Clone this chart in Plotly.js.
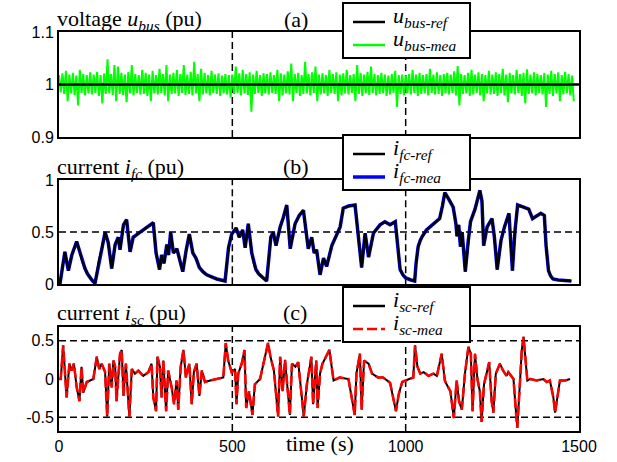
<!DOCTYPE html>
<html>
<head>
<meta charset="utf-8">
<script src="https://cdn.plot.ly/plotly-3.0.1.min.js"></script>
<style>html,body{margin:0;padding:0;background:#fff}</style>
</head>
<body>
<div id="chart" style="width:617px;height:462px"></div>
<script>
// ---- (a) DC bus voltage: reference and measured deviation envelope (pu) ----
const busRefTime = [0, 1500];
const busRef = [1, 1];
const busStep = 10; // sampling interval of the measured envelope (s)
const busUp = [
  0.018,0.021,0.026,0.019,0.022,0.017,0.028,0.020,0.018,0.023,
  0.019,0.024,0.018,0.021,0.048,0.020,0.037,0.034,0.022,0.019,
  0.024,0.037,0.020,0.018,0.028,0.022,0.019,0.026,0.018,0.030,
  0.020,0.037,0.019,0.022,0.028,0.020,0.037,0.019,0.024,0.043,
  0.020,0.030,0.022,0.018,0.026,0.019,0.021,0.017,0.020,0.018,
  0.019,0.034,0.021,0.028,0.020,0.023,0.019,0.026,0.018,0.021,
  0.020,0.023,0.018,0.028,0.021,0.019,0.025,0.040,0.020,0.022,
  0.018,0.043,0.020,0.023,0.034,0.019,0.021,0.018,0.028,0.020,
  0.023,0.019,0.021,0.028,0.018,0.020,0.037,0.022,0.019,0.024,
  0.034,0.020,0.018,0.022,0.019,0.017,0.020,0.026,0.018,0.019,
  0.017,0.020,0.028,0.019,0.022,0.018,0.020,0.030,0.019,0.023,
  0.018,0.020,0.022,0.019,0.025,0.035,0.020,0.018,0.022,0.028,
  0.019,0.023,0.020,0.018,0.026,0.019,0.023,0.020,0.030,0.019,
  0.022,0.018,0.028,0.020,0.022,0.029,0.019,0.023,0.020,0.018,
  0.022,0.019,0.026,0.020,0.023,0.018,0.024,0.020,0.017
];
const busLo = [
  -0.015,-0.018,-0.032,-0.017,-0.020,-0.040,-0.016,-0.021,-0.017,-0.019,
  -0.016,-0.022,-0.036,-0.018,-0.017,-0.020,-0.032,-0.018,-0.020,-0.034,
  -0.017,-0.021,-0.016,-0.019,-0.018,-0.022,-0.032,-0.017,-0.019,-0.016,
  -0.021,-0.032,-0.018,-0.017,-0.022,-0.016,-0.020,-0.018,-0.021,-0.017,
  -0.032,-0.019,-0.017,-0.021,-0.016,-0.018,-0.022,-0.017,-0.019,-0.025,
  -0.018,-0.016,-0.021,-0.017,-0.020,-0.052,-0.018,-0.016,-0.022,-0.017,
  -0.019,-0.016,-0.018,-0.032,-0.021,-0.017,-0.019,-0.032,-0.016,-0.022,
  -0.018,-0.017,-0.021,-0.016,-0.032,-0.019,-0.017,-0.022,-0.016,-0.018,
  -0.032,-0.021,-0.017,-0.019,-0.016,-0.032,-0.018,-0.022,-0.017,-0.020,
  -0.016,-0.021,-0.018,-0.017,-0.022,-0.019,-0.016,-0.043,-0.018,-0.021,
  -0.017,-0.019,-0.016,-0.022,-0.018,-0.017,-0.021,-0.016,-0.019,-0.018,
  -0.022,-0.017,-0.019,-0.016,-0.021,-0.040,-0.018,-0.017,-0.022,-0.019,
  -0.016,-0.021,-0.032,-0.017,-0.019,-0.018,-0.022,-0.016,-0.021,-0.034,
  -0.017,-0.019,-0.016,-0.022,-0.036,-0.018,-0.017,-0.021,-0.016,-0.019,
  -0.043,-0.018,-0.022,-0.017,-0.032,-0.019,-0.016,-0.021,-0.032
];

// ---- (b) fuel-cell current (pu) ----
const fcTime = [
  0,3,17,27,37,51,61,68,75,82,90,97,104,
  110,116,123,133,142,152,162,171,176,186,195,
  205,214,234,253,272,280,290,296,303,311,
  316,322,330,340,349,357,367,376,386,395,
  405,415,426,440,455,479,484,489,498,511,520,530,537,
  546,556,562,568,576,585,599,611,618,626,638,647,
  657,667,681,693,705,713,719,729,736,743,
  753,763,772,787,801,811,820,835,854,858,
  866,873,883,893,907,926,940,955,970,975,
  980,984,992,1000,1015,1026,1030,1036,1042,1048,1060,1080,1098,1106,
  1113,1120,1128,1137,1145,1148,1153,1158,1163,1172,
  1180,1187,1200,1207,1214,1220,1225,1235,1249,1256,
  1264,1275,1285,1298,1303,1308,1315,1323,1340,1355,
  1366,1380,1390,1400,1405,1412,1418,1425,1440,1478
];
const fcRef = [
  0,0.01,0.31,0.13,0.28,0.41,0.30,0.21,0.15,0.10,0.06,0.03,0.01,
  0.12,0.24,0.33,0.50,0.40,0.15,0.38,0.45,0.33,0.57,0.62,
  0.31,0.45,0.50,0.55,0.59,0.30,0.14,0.28,0.20,0.38,
  0.28,0.50,0.30,0.34,0.22,0.12,0.33,0.48,0.30,0.25,
  0.16,0.12,0.09,0.07,0.05,0.03,0.20,0.35,0.48,0.54,0.45,0.52,0.35,
  0.58,0.30,0.20,0.14,0.10,0.07,0.03,0.45,0.50,0.37,0.55,0.64,
  0.76,0.34,0.58,0.66,0.71,0.50,0.34,0.45,0.30,0.33,
  0.09,0.25,0.17,0.37,0.47,0.55,0.73,0.75,0.76,0.64,
  0.38,0.16,0.49,0.26,0.49,0.57,0.60,0.57,0.60,0.46,
  0.28,0.14,0.09,0.06,0.04,0.03,0.20,0.36,0.42,0.46,0.52,0.58,0.63,0.75,
  0.88,0.84,0.80,0.74,0.58,0.46,0.57,0.36,0.50,0.12,
  0.40,0.60,0.72,0.82,0.90,0.80,0.37,0.55,0.63,0.45,
  0.14,0.42,0.55,0.68,0.45,0.13,0.50,0.76,0.74,0.72,
  0.63,0.66,0.68,0.66,0.37,0.13,0.08,0.05,0.04,0.03
];
// the measured current tracks its reference
const fcMea = fcRef.slice();

// ---- (c) supercapacitor current (pu) ----
const scTime = [
  0,5,12,17,22,30,36,43,51,59,
  65,70,80,99,109,116,123,133,139,145,
  152,157,162,166,176,181,186,193,203,210,
  219,229,243,258,267,272,280,284,291,296,
  301,309,315,325,332,339,344,351,359,366,
  376,383,389,397,405,412,421,436,455,474,
  481,488,498,508,512,517,527,535,540,548,
  558,565,580,603,610,620,632,638,645,652,
  666,672,682,690,706,715,728,733,742,746,
  753,760,780,786,792,810,835,853,858,868,
  873,880,893,903,920,935,955,972,980,990,
  998,1010,1022,1027,1034,1042,1052,1066,1080,1090,
  1104,1113,1118,1129,1139,1147,1154,1162,1171,1181,
  1188,1193,1200,1207,1214,1219,1226,1234,1241,1248,
  1253,1260,1272,1281,1291,1296,1311,1318,1322,1330,
  1335,1340,1346,1351,1359,1378,1397,1407,1416,1426,
  1431,1439,1445,1460,1474
];
const scRef = [
  0.00,0.00,0.44,0.16,-0.24,0.20,0.11,0.20,-0.11,-0.29,
  0.16,-0.18,-0.04,0.00,0.29,0.13,0.20,0.09,-0.49,0.20,
  -0.11,0.24,0.16,-0.29,0.33,0.38,-0.22,0.20,-0.49,0.13,
  0.07,0.11,0.04,0.09,0.20,-0.24,-0.42,0.29,0.16,-0.24,
  0.24,-0.42,0.11,-0.11,-0.33,-0.02,-0.40,0.16,0.38,0.02,
  0.20,-0.33,0.09,0.20,-0.22,0.11,-0.04,-0.02,0.00,0.02,
  0.47,0.24,0.09,0.13,-0.33,0.07,0.20,0.38,-0.38,-0.16,
  -0.47,-0.07,0.00,0.47,0.29,0.11,-0.49,0.29,-0.16,0.25,
  -0.47,0.20,0.16,0.22,-0.49,-0.07,0.29,-0.33,0.24,-0.38,
  0.07,0.20,0.38,0.16,-0.02,0.02,0.00,-0.47,0.07,0.33,
  -0.40,0.24,0.20,0.07,0.02,0.02,-0.05,-0.42,-0.20,-0.04,
  -0.02,0.00,0.02,0.44,0.16,0.07,0.09,0.04,0.07,0.04,
  0.33,-0.02,-0.07,-0.16,-0.51,-0.02,-0.29,-0.40,0.07,0.42,
  0.33,-0.42,0.33,0.00,-0.16,-0.56,-0.07,0.11,0.22,-0.29,
  -0.44,0.07,0.20,0.11,0.04,0.09,0.00,-0.42,-0.64,-0.02,
  0.38,0.55,0.24,-0.02,0.00,-0.02,0.00,-0.04,-0.02,-0.24,
  -0.44,-0.16,-0.02,-0.02,0.00
];
const scMea = scRef.slice();

// axis ticks and reference levels
const timeTicks = [0, 500, 1000, 1500];
const busTicks = [0.9, 1, 1.1];
const fcTicks = [0, 0.5, 1];
const scTicks = [-0.5, 0, 0.5];
const tickText = v => String(v);
const stageTimes = [500, 1000];
const fcLevels = [0.5];
const scLevels = [-0.5, 0.5];

// measured bus voltage drawn as an up/down trace between the envelope samples
const busMeaT = [], busMeaV = [];
busUp.forEach((u, i) => {
  const t = i * busStep;
  busMeaT.push(t, t + busStep / 2);
  busMeaV.push(busRef[0] + u, busRef[0] + busLo[i]);
});

const serif = 'Liberation Serif';
const sans = 'Liberation Sans';

// series styles, shared by the traces and their legend keys
const style = {
  busRef: {color: 'black', width: 2.5, dash: 'solid'},
  busMea: {color: '#00ff00', width: 2, dash: 'solid'},
  fcRef: {color: 'black', width: 2.2, dash: 'solid'},
  fcMea: {color: '#0000ff', width: 3.5, dash: 'solid'},
  scRef: {color: 'black', width: 2, dash: 'solid'},
  scMea: {color: '#ff0000', width: 2.6, dash: '10px,4px'}
};
const label = (sym, sub) => '<i>' + sym + '</i><sub><i>' + sub + '</i></sub>';

const traces = [
  {x: busMeaT, y: busMeaV, xaxis: 'x3', yaxis: 'y3', type: 'scatter', mode: 'lines',
   line: style.busMea, name: label('u', 'bus-mea')},
  {x: busRefTime, y: busRef, xaxis: 'x3', yaxis: 'y3', type: 'scatter', mode: 'lines',
   line: style.busRef, name: label('u', 'bus-ref')},
  {x: fcTime, y: fcMea, xaxis: 'x2', yaxis: 'y2', type: 'scatter', mode: 'lines',
   line: style.fcMea, name: label('i', 'fc-mea')},
  {x: fcTime, y: fcRef, xaxis: 'x2', yaxis: 'y2', type: 'scatter', mode: 'lines',
   line: style.fcRef, name: label('i', 'fc-ref')},
  {x: scTime, y: scRef, xaxis: 'x', yaxis: 'y', type: 'scatter', mode: 'lines',
   line: style.scRef, name: label('i', 'sc-ref')},
  {x: scTime, y: scMea, xaxis: 'x', yaxis: 'y', type: 'scatter', mode: 'lines',
   line: style.scMea, name: label('i', 'sc-mea')}
];

// plot-area geometry (px) used to place the boxed keys and panel captions
const M = {l: 59, r: 38, t: 32, b: 31};
const W = 617, H = 462;
const px = x => (x - M.l) / (W - M.l - M.r);
const py = y => (H - M.b - y) / (H - M.t - M.b);

const axisBase = {
  showline: true, mirror: true, linecolor: 'black', linewidth: 2,
  showgrid: false, zeroline: false, ticks: '',
  tickfont: {family: sans, size: 16, color: 'black'}
};
const xBase = Object.assign({}, axisBase, {range: [0, 1500], tickvals: timeTicks, ticktext: timeTicks.map(tickText)});

const shapes = [];
const dashLine = {color: 'black', width: 1.5, dash: '7px,4px'};
[['x3', 'y3'], ['x2', 'y2'], ['x', 'y']].forEach(([xa, ya]) => {
  stageTimes.forEach(t => shapes.push({type: 'line', xref: xa, yref: ya + ' domain',
    x0: t, x1: t, y0: 0, y1: 1, line: dashLine, layer: 'below'}));
});
fcLevels.forEach(v => shapes.push({type: 'line', xref: 'x2 domain', yref: 'y2',
  x0: 0, x1: 1, y0: v, y1: v, line: dashLine, layer: 'below'}));
scLevels.forEach(v => shapes.push({type: 'line', xref: 'x domain', yref: 'y',
  x0: 0, x1: 1, y0: v, y1: v, line: dashLine, layer: 'below'}));

const textFont = {family: serif, size: 22, color: 'black'};
const annotations = [];
const note = (x, y, text, anchor) => annotations.push({xref: 'paper', yref: 'paper', x: x, y: y,
  text: text, showarrow: false, xanchor: anchor, yanchor: 'middle', font: textFont});

// boxed keys, one per panel (two entries each)
const keys = [
  {top: 3, items: [traces[1], traces[0]]},
  {top: 135, items: [traces[3], traces[2]]},
  {top: 287, items: [traces[4], traces[5]]}
];
keys.forEach(k => {
  shapes.push({type: 'rect', xref: 'paper', yref: 'paper', layer: 'above',
    x0: px(343), x1: px(470), y0: py(k.top), y1: py(k.top + 55),
    fillcolor: 'white', line: {color: 'black', width: 2}});
  k.items.forEach((tr, j) => {
    const yy = k.top + 19 + 23 * j;
    shapes.push({type: 'line', xref: 'paper', yref: 'paper', layer: 'above',
      x0: px(353), x1: px(385), y0: py(yy), y1: py(yy),
      line: {color: tr.line.color, width: Math.max(tr.line.width, 2.5), dash: tr.line.dash}});
    annotations.push({xref: 'paper', yref: 'paper', x: px(391), y: py(yy), yshift: 5,
      text: tr.name, showarrow: false, xanchor: 'left', yanchor: 'middle', font: textFont});
  });
});

note(px(55), py(20.5), 'voltage <i>u</i><sub><i>bus</i></sub> (pu)', 'left');
note(px(296), py(19), '(a)', 'center');
note(px(55), py(167.5), 'current <i>i</i><sub><i>fc</i></sub> (pu)', 'left');
note(px(296), py(166), '(b)', 'center');
note(px(55), py(313.5), 'current <i>i</i><sub><i>sc</i></sub> (pu)', 'left');
note(px(295), py(312), '(c)', 'center');
note(px(320), py(443), 'time (s)', 'center');

const layout = {
  width: W, height: H, autosize: false,
  margin: Object.assign({autoexpand: false}, M),
  paper_bgcolor: 'white', plot_bgcolor: 'white',
  showlegend: false,
  xaxis: Object.assign({}, xBase, {domain: [0, 1], anchor: 'y'}),
  yaxis: Object.assign({}, axisBase, {domain: [0, 0.2607], anchor: 'x', range: [-0.68, 0.68],
    tickvals: scTicks, ticktext: scTicks.map(tickText)}),
  xaxis2: Object.assign({}, xBase, {domain: [0, 1], anchor: 'y2', showticklabels: false}),
  yaxis2: Object.assign({}, axisBase, {domain: [0.368, 0.629], anchor: 'x2', range: [0, 1],
    tickvals: fcTicks, ticktext: fcTicks.map(tickText)}),
  xaxis3: Object.assign({}, xBase, {domain: [0, 1], anchor: 'y3', showticklabels: false}),
  yaxis3: Object.assign({}, axisBase, {domain: [0.737, 1], anchor: 'x3', range: [0.9, 1.1],
    tickvals: busTicks, ticktext: busTicks.map(tickText)}),
  shapes: shapes,
  annotations: annotations
};

Plotly.newPlot('chart', traces, layout, {displayModeBar: false, staticPlot: true});
</script>
</body>
</html>
